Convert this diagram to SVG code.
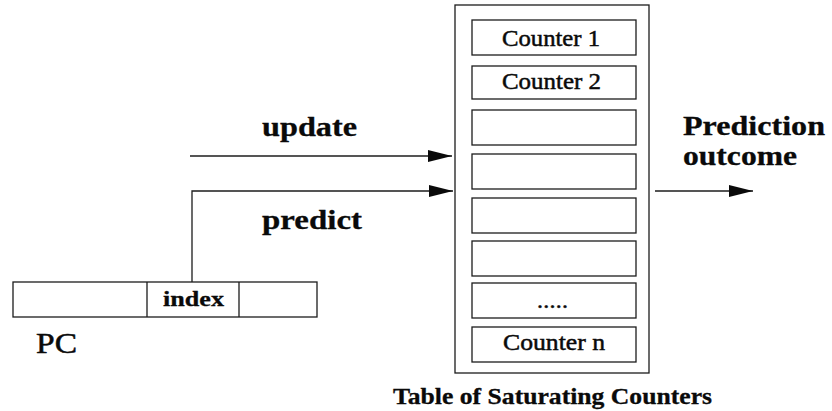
<svg xmlns="http://www.w3.org/2000/svg" width="832" height="411" viewBox="0 0 832 411">
  <style>
    .box { fill: #fff; stroke: #1c1c1c; stroke-width: 1.3; }
    .line { fill: none; stroke: #1c1c1c; stroke-width: 1.3; }
    .reg { font-family: "Liberation Serif", "Times New Roman", serif; font-weight: normal; fill: #0a0a0a; stroke: #0a0a0a; stroke-width: 0.5; }
    .bold { font-family: "Liberation Serif", "Times New Roman", serif; font-weight: bold; fill: #0a0a0a; stroke: #0a0a0a; stroke-width: 0.3; }
  </style>
  <defs>
    <marker id="arrow" markerUnits="userSpaceOnUse" markerWidth="24" markerHeight="12" refX="24" refY="6" orient="auto">
      <path d="M0,0 L24,6 L0,12 Z" fill="#0a0a0a"/>
    </marker>
  </defs>
  <rect width="832" height="411" fill="#fff"/>

  <!-- Table of saturating counters -->
  <g id="table">
    <rect class="box" x="455" y="5" width="194" height="368"/>
    <g id="counter-1">
      <rect class="box" x="472" y="20" width="164" height="35"/>
      <text class="reg" x="502" y="46" font-size="24" textLength="98" lengthAdjust="spacingAndGlyphs">Counter 1</text>
    </g>
    <g id="counter-2">
      <rect class="box" x="472" y="66" width="164" height="33"/>
      <text class="reg" x="502" y="89" font-size="24" textLength="99" lengthAdjust="spacingAndGlyphs">Counter 2</text>
    </g>
    <g id="counter-3"><rect class="box" x="472" y="110" width="164" height="35"/></g>
    <g id="counter-4"><rect class="box" x="472" y="154" width="164" height="35"/></g>
    <g id="counter-5"><rect class="box" x="472" y="198" width="164" height="35"/></g>
    <g id="counter-6"><rect class="box" x="472" y="241" width="164" height="35"/></g>
    <g id="counter-dots">
      <rect class="box" x="472" y="283" width="164" height="35"/>
      <text class="reg" x="537" y="308" font-size="24" textLength="31" lengthAdjust="spacing">.....</text>
    </g>
    <g id="counter-n">
      <rect class="box" x="472" y="327" width="164" height="35"/>
      <text class="reg" x="503" y="350" font-size="24" textLength="102" lengthAdjust="spacingAndGlyphs">Counter n</text>
    </g>
    <text class="bold" x="393" y="404" font-size="23" textLength="319" lengthAdjust="spacingAndGlyphs">Table of Saturating Counters</text>
  </g>

  <!-- Program counter register -->
  <g id="pc">
    <rect class="box" x="13" y="282" width="304" height="35"/>
    <path class="line" d="M147,282 V317 M239,282 V317"/>
    <text class="bold" x="163" y="306" font-size="22" textLength="61" lengthAdjust="spacingAndGlyphs">index</text>
    <text class="reg" x="36" y="353" font-size="29" textLength="41" lengthAdjust="spacingAndGlyphs">PC</text>
  </g>

  <!-- Connectors -->
  <g id="connectors">
    <path class="line" d="M190,156 H452" marker-end="url(#arrow)"/>
    <path class="line" d="M192,282 V191 H453" marker-end="url(#arrow)"/>
    <path class="line" d="M655,191 H753" marker-end="url(#arrow)"/>
  </g>

  <!-- Connector labels -->
  <g id="labels">
    <text class="bold" x="262" y="136" font-size="28" textLength="95" lengthAdjust="spacingAndGlyphs">update</text>
    <text class="bold" x="262" y="229" font-size="28" textLength="100" lengthAdjust="spacingAndGlyphs">predict</text>
    <text class="bold" x="683" y="135" font-size="28" textLength="142" lengthAdjust="spacingAndGlyphs">Prediction</text>
    <text class="bold" x="683" y="165" font-size="28" textLength="114" lengthAdjust="spacingAndGlyphs">outcome</text>
  </g>
</svg>
